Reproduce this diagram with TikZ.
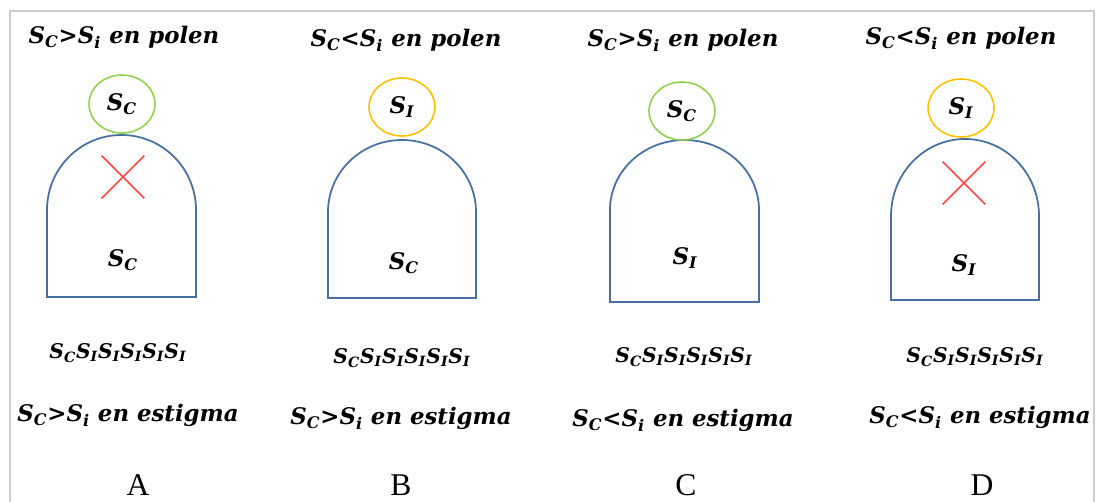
\documentclass[tikz,border=0pt]{standalone}
\usepackage{fontspec}
\setmainfont{Liberation Serif}
\newfontfamily\pfont{DejaVu Serif}
\usepackage{xcolor}
\usetikzlibrary{positioning,shapes.misc,shapes.geometric}

\definecolor{archblue}{RGB}{72,112,158}
\definecolor{okgreen}{RGB}{146,208,80}
\definecolor{badyellow}{RGB}{255,192,0}
\definecolor{crossred}{RGB}{255,70,70}
\definecolor{framegray}{RGB}{205,205,205}

\newcommand{\sgC}{S\textsubscript{C}}
\newcommand{\sgI}{S\textsubscript{I}}
\newcommand{\sgi}{S\textsubscript{i}}
\newcommand{\geno}{\sgC\sgI\sgI\sgI\sgI\sgI}

\begin{document}
\begin{tikzpicture}[x=0.02cm, y=-0.02cm,
  lbl/.style={font=\pfont\bfseries\itshape\fontsize{13}{15}\selectfont, inner sep=0pt},
  gen/.style={font=\pfont\bfseries\itshape\fontsize{11.5}{13}\selectfont, inner sep=0pt},
  allele/.style={font=\pfont\bfseries\itshape\fontsize{13}{15}\selectfont, inner sep=0pt},
  grain/.style={ellipse, draw, line width=0.9pt, minimum width=1.32cm, minimum height=1.16cm, inner sep=0pt},
  pistil/.style={draw=archblue, line width=1pt},
  nogo/.style={cross out, draw=crossred, line width=0.9pt, minimum size=0.82cm, inner sep=0pt},
  panel/.style={font=\fontsize{18}{20}\selectfont, inner sep=0pt, anchor=south}
]
\useasboundingbox (0,0) rectangle (1096,501);
\draw[framegray, line width=0.6pt] (10,530) -- (10,11) -- (1094,11) -- (1094,530);

% A
\node[lbl] (titleA) at (124,37) {\sgC>\sgi{} en polen};
\draw[pistil] (47,297) -- (47,210) arc[start angle=180, end angle=360, x radius=74.5, y radius=75] -- (196,297) -- cycle;
\node[grain, draw=okgreen, allele] (pollenA) at (122,104) {\sgC};
\node[nogo] (crossA) at (123,177) {};
\node[allele] (stigmaA) at (123,260) {\sgC};
\node[gen] (genoA) at (118,353) {\geno};
\node[lbl] (estA) at (128,415) {\sgC>\sgi{} en estigma};
\node[panel] (nameA) at (138,496) {A};

% B
\node[lbl] (titleB) at (406,40) {\sgC<\sgi{} en polen};
\draw[pistil] (328,298) -- (328,212) arc[start angle=180, end angle=360, x radius=74, y radius=72] -- (476,298) -- cycle;
\node[grain, draw=badyellow, allele] (pollenB) at (402,107) {\sgI};
\node[allele] (stigmaB) at (404,263) {\sgC};
\node[gen] (genoB) at (402,358) {\geno};
\node[lbl] (estB) at (401,418) {\sgC>\sgi{} en estigma};
\node[panel] (nameB) at (401,496) {B};

% C
\node[lbl] (titleC) at (683,40) {\sgC>\sgi{} en polen};
\draw[pistil] (610,302) -- (610,210) arc[start angle=180, end angle=360, x radius=74.5, y radius=70] -- (759,302) -- cycle;
\node[grain, draw=okgreen, allele] (pollenC) at (682,111) {\sgC};
\node[allele] (stigmaC) at (685,258) {\sgI};
\node[gen] (genoC) at (684,357) {\geno};
\node[lbl] (estC) at (683,420) {\sgC<\sgi{} en estigma};
\node[panel] (nameC) at (686,496) {C};

% D
\node[lbl] (titleD) at (961,38) {\sgC<\sgi{} en polen};
\draw[pistil] (891,300) -- (891,216) arc[start angle=180, end angle=360, x radius=74, y radius=77] -- (1039,300) -- cycle;
\node[grain, draw=badyellow, allele] (pollenD) at (961,108) {\sgI};
\node[nogo] (crossD) at (964,183) {};
\node[allele] (stigmaD) at (964,265) {\sgI};
\node[gen] (genoD) at (975,357) {\geno};
\node[lbl] (estD) at (980,417) {\sgC<\sgi{} en estigma};
\node[panel] (nameD) at (982,496) {D};
\end{tikzpicture}
\end{document}
